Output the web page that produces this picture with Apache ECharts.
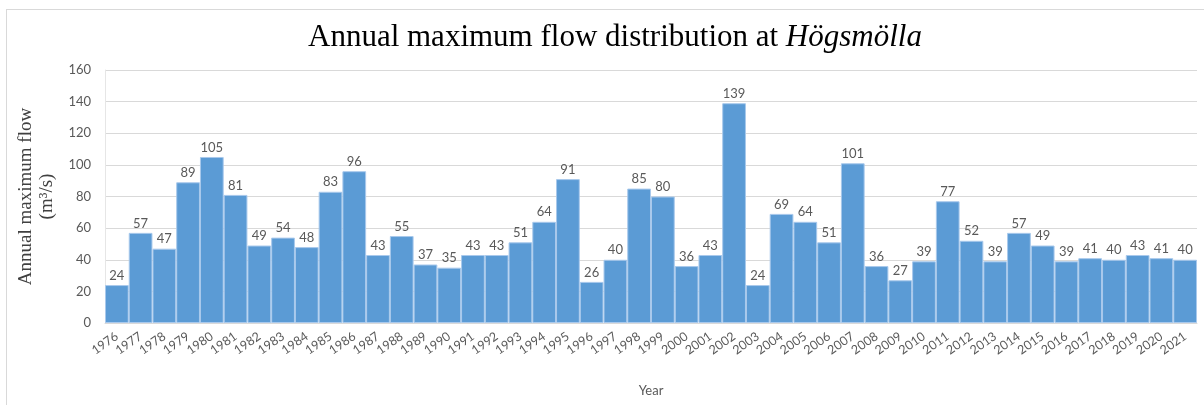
<!DOCTYPE html>
<html>
<head>
<meta charset="utf-8">
<script src="https://cdn.jsdelivr.net/npm/echarts@6/dist/echarts.min.js"></script>
<style>
  html, body { margin: 0; padding: 0; background: #fff; }
  #frame { position: absolute; left: 6px; top: 9px; width: 1204px; height: 405px;
           border-left: 1px solid #d9d9d9; border-top: 1px solid #d9d9d9; }
  #chart { position: absolute; left: 0; top: 0; width: 1204px; height: 405px; }
</style>
</head>
<body>
<div id="frame"></div>
<div id="chart"></div>
<script>
// Annual maximum flow per year (m³/s)
const years = [
  '1976','1977','1978','1979','1980','1981','1982','1983','1984','1985',
  '1986','1987','1988','1989','1990','1991','1992','1993','1994','1995',
  '1996','1997','1998','1999','2000','2001','2002','2003','2004','2005',
  '2006','2007','2008','2009','2010','2011','2012','2013','2014','2015',
  '2016','2017','2018','2019','2020','2021'
];
const maxFlow = [
  24, 57, 47, 89, 105, 81, 49, 54, 48, 83,
  96, 43, 55, 37, 35, 43, 43, 51, 64, 91,
  26, 40, 85, 80, 36, 43, 139, 24, 69, 64,
  51, 101, 36, 27, 39, 77, 52, 39, 57, 49,
  39, 41, 40, 43, 41, 40
];
const yTicks = [0, 20, 40, 60, 80, 100, 120, 140, 160];

const labelFont = 'Lato, "Open Sans", sans-serif';
const serif = '"Liberation Serif", "DejaVu Serif", serif';

const chart = echarts.init(document.getElementById('chart'), null, { renderer: 'canvas' });
chart.setOption({
  backgroundColor: 'transparent',
  animation: false,
  title: {
    text: '{n|Annual maximum flow distribution at }{i|Högsmölla}',
    left: 303,
    top: 17,
    textStyle: {
      fontWeight: 'normal',
      rich: {
        n: { fontFamily: serif, fontSize: 31, fontWeight: 'normal', color: '#000' },
        i: { fontFamily: serif, fontSize: 31, fontWeight: 'normal', fontStyle: 'italic', color: '#000' }
      }
    }
  },
  grid: { left: 105, right: 7, top: 70, bottom: 82, containLabel: false },
  xAxis: {
    type: 'category',
    data: years,
    name: 'Year',
    nameLocation: 'middle',
    nameGap: 61,
    nameTextStyle: { fontFamily: labelFont, fontSize: 13, color: '#595959' },
    axisLine: { lineStyle: { color: '#d9d9d9', width: 1 } },
    axisTick: { show: false },
    axisLabel: {
      rotate: 35,
      interval: 0,
      margin: 12,
      fontFamily: labelFont,
      fontSize: 12.5,
      color: '#595959'
    }
  },
  yAxis: {
    type: 'value',
    min: yTicks[0],
    max: yTicks[yTicks.length - 1],
    interval: yTicks[1] - yTicks[0],
    name: 'Annual maximum flow\n(m³/s)',
    nameLocation: 'middle',
    nameGap: 45,
    nameRotate: 90,
    nameTextStyle: { fontFamily: serif, fontSize: 19, color: '#404040', lineHeight: 21 },
    axisLine: { show: true, lineStyle: { color: '#e6e6e6', width: 1 } },
    axisTick: { show: false },
    axisLabel: { margin: 14, fontFamily: labelFont, fontSize: 13, color: '#595959' },
    splitLine: { lineStyle: { color: '#d9d9d9', width: 1 } }
  },
  series: [{
    type: 'bar',
    data: maxFlow,
    barCategoryGap: '0%',
    itemStyle: { color: '#5b9bd5', borderColor: '#a9c9ec', borderWidth: 1 },
    label: {
      show: true,
      position: 'top',
      distance: 3,
      fontFamily: labelFont,
      fontSize: 13,
      color: '#595959'
    }
  }]
});
</script>
</body>
</html>
